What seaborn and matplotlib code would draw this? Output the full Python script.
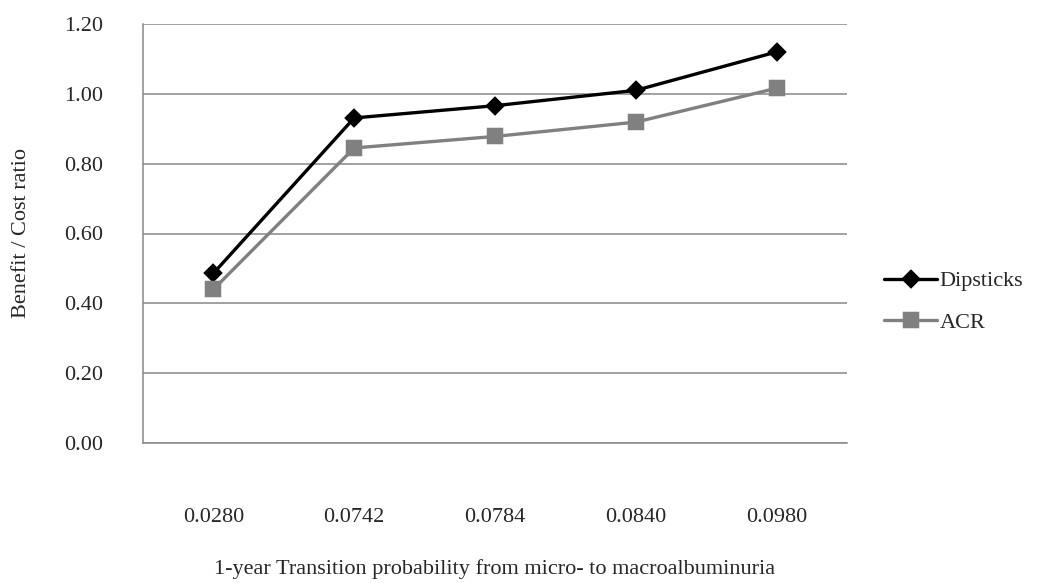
import matplotlib
matplotlib.use("Agg")
import matplotlib.pyplot as plt
import seaborn as sns
import pandas as pd
from matplotlib.ticker import FixedLocator

# Transition probabilities (categories) and benefit/cost ratios per screening method
probabilities = ["0.0280", "0.0742", "0.0784", "0.0840", "0.0980"]
dipsticks = [0.486, 0.931, 0.966, 1.010, 1.120]
acr = [0.440, 0.845, 0.878, 0.919, 1.016]
series_names = ["Dipsticks", "ACR"]
y_ticks = [0.0, 0.2, 0.4, 0.6, 0.8, 1.0, 1.2]

df = pd.DataFrame({
    "prob": probabilities * 2,
    "ratio": dipsticks + acr,
    "method": [series_names[0]] * len(probabilities) + [series_names[1]] * len(probabilities),
})

sns.set_style("white")
plt.rcParams["font.family"] = ["Liberation Serif", "DejaVu Serif"]

FS = 16
grid_col = "#888888"
fig = plt.figure(figsize=(10.39, 5.83), dpi=100)
ax = fig.add_axes([143 / 1039, 1 - 443 / 583, (847 - 143) / 1039, (443 - 24) / 583])

sns.pointplot(
    data=df, x="prob", y="ratio", hue="method", order=probabilities,
    hue_order=series_names, palette=["#000000", "#808080"],
    markers=["D", "s"], linestyles=["-", "-"], errorbar=None,
    markersize=8, linewidth=2.4, ax=ax,
)
ax.get_legend().remove()
data_lines = [ln for ln in ax.lines if len(ln.get_xdata()) == len(probabilities)]
data_lines[1].set_markersize(9.5)

ax.set_ylim(0, 1.2)
ax.set_xlim(-0.5, len(probabilities) - 0.5)
ax.set_yticks(y_ticks)
ax.set_yticklabels([f"{v:.2f}" for v in y_ticks], fontsize=FS)
ax.yaxis.grid(True, color=grid_col, linewidth=1.1)
ax.set_axisbelow(True)

# category labels centered, tick marks on the category boundaries
ax.set_xticks(range(len(probabilities)))
ax.set_xticklabels(probabilities, fontsize=FS)
ax.tick_params(axis="x", which="major", length=0, pad=47)
ax.xaxis.set_minor_locator(FixedLocator([i - 0.5 for i in range(len(probabilities) + 1)]))
ax.tick_params(axis="x", which="minor", length=8, width=1.1, color=grid_col, direction="out")
ax.tick_params(axis="y", length=8, width=1.1, color=grid_col, direction="out", pad=21)

for side in ["top", "right"]:
    ax.spines[side].set_visible(False)
for side in ["left", "bottom"]:
    ax.spines[side].set_color(grid_col)
    ax.spines[side].set_linewidth(1.1)

ax.set_xlabel("1-year Transition probability from micro- to macroalbuminuria", fontsize=FS, labelpad=23)
ax.set_ylabel("Benefit / Cost ratio", fontsize=FS, labelpad=23.5)

fig.legend(data_lines, series_names, loc="center left", bbox_to_anchor=(884 / 1039, 1 - 302 / 583),
           frameon=False, fontsize=FS, handlelength=2.4, handletextpad=0.1,
           labelspacing=0.95, borderaxespad=0, borderpad=0)

fig.savefig("out.png", dpi=100)
